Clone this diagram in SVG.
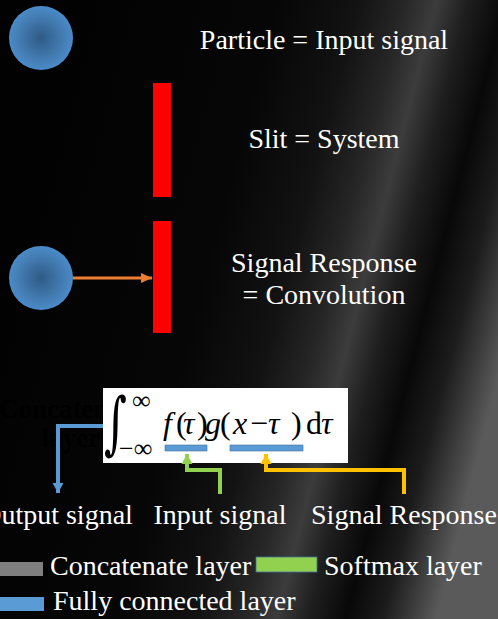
<svg xmlns="http://www.w3.org/2000/svg" width="498" height="619" viewBox="0 0 498 619">
<defs>
<linearGradient id="bg" gradientUnits="userSpaceOnUse" x1="0" y1="250" x2="498" y2="379">
<stop offset="0" stop-color="#020202"/>
<stop offset="0.4" stop-color="#060606"/>
<stop offset="0.55" stop-color="#121212"/>
<stop offset="0.64" stop-color="#262626"/>
<stop offset="0.70" stop-color="#3c3c3c"/>
<stop offset="0.76" stop-color="#1e1e1e"/>
<stop offset="0.83" stop-color="#080808"/>
<stop offset="0.9" stop-color="#1c1c1c"/>
<stop offset="1" stop-color="#5a5a5a"/>
</linearGradient>
<radialGradient id="ball" cx="0.5" cy="0.5" r="0.5">
<stop offset="0" stop-color="#2e5b86"/>
<stop offset="0.6" stop-color="#4178ad"/>
<stop offset="1" stop-color="#4b8bc8"/>
</radialGradient>
<marker id="aOrange" markerUnits="userSpaceOnUse" markerWidth="12" markerHeight="12" refX="11" refY="6" orient="auto"><path d="M0,1 L11,6 L0,11 z" fill="#ed7d31"/></marker>
<marker id="aBlue" markerUnits="userSpaceOnUse" markerWidth="12" markerHeight="12" refX="10" refY="6" orient="auto"><path d="M0,0.5 L10,6 L0,11.5 z" fill="#5b9bd5"/></marker>
<marker id="aGreen" markerUnits="userSpaceOnUse" markerWidth="12" markerHeight="12" refX="10" refY="6" orient="auto"><path d="M0,0.5 L10,6 L0,11.5 z" fill="#92d050"/></marker>
<marker id="aYellow" markerUnits="userSpaceOnUse" markerWidth="12" markerHeight="12" refX="10" refY="6" orient="auto"><path d="M0,0.5 L10,6 L0,11.5 z" fill="#ffc000"/></marker>
</defs>
<style>
.t{font-family:"Liberation Serif","Times New Roman",serif;font-size:28px;fill:#ffffff}
.m{font-family:"Liberation Serif","DejaVu Serif",serif;fill:#000000}
.mi{font-style:italic}
.conn{fill:none;stroke-width:4}
</style>
<rect x="0" y="0" width="498" height="619" fill="url(#bg)"/>

<g id="particle1"><circle cx="41" cy="38" r="32" fill="url(#ball)"/></g>
<g id="label-particle"><text class="t" x="324" y="49" text-anchor="middle">Particle = Input signal</text></g>
<g id="slit1"><rect x="153" y="83" width="18" height="114" fill="#ff0000"/></g>
<g id="label-slit"><text class="t" x="324" y="148" text-anchor="middle">Slit = System</text></g>
<g id="particle2"><circle cx="41" cy="278" r="32" fill="url(#ball)"/></g>
<g id="slit2"><rect x="153" y="221" width="18" height="112" fill="#ff0000"/></g>
<g id="label-response"><text class="t" x="324" y="272" text-anchor="middle">Signal Response</text><text class="t" x="324" y="304" text-anchor="middle">= Convolution</text></g>

<g id="hidden-concat"><text x="71" y="418" text-anchor="middle" font-family="Liberation Serif, serif" font-weight="bold" font-size="27" fill="#000">Concatenate</text><text x="71" y="447" text-anchor="middle" font-family="Liberation Serif, serif" font-weight="bold" font-size="27" fill="#000">layer</text></g>

<g id="formula">
<rect x="103" y="388" width="245" height="75" fill="#ffffff"/>
<text font-family="DejaVu Serif, serif" font-size="44" fill="#000" transform="translate(104,446) scale(1,1.55)">∫</text>
<text class="m" font-size="26" x="132" y="409">∞</text>
<text class="m" font-size="26" x="119" y="457">−∞</text>
<text class="m" font-size="32" y="434"><tspan class="mi" x="163">f</tspan><tspan x="176">(</tspan><tspan class="mi" x="183">τ</tspan><tspan x="197">)</tspan><tspan class="mi" x="205">g</tspan><tspan x="220">(</tspan><tspan class="mi" x="233">x</tspan><tspan x="250">−</tspan><tspan class="mi" x="268">τ</tspan><tspan x="291">)</tspan><tspan x="306">d</tspan><tspan class="mi" x="321">τ</tspan></text>
<rect x="165" y="445" width="42" height="6" fill="#5b9bd5" stroke="#41719c" stroke-width="0.6"/>
<rect x="230" y="445" width="73" height="6" fill="#5b9bd5" stroke="#41719c" stroke-width="0.6"/>
</g>

<g id="connectors">
<path d="M73,278 H152" fill="none" stroke="#ed7d31" stroke-width="3" marker-end="url(#aOrange)"/>
<path class="conn" d="M103,426 H58 V493" stroke="#5b9bd5" marker-end="url(#aBlue)"/>
<path class="conn" d="M220,494 V470 H187 V454" stroke="#92d050" marker-end="url(#aGreen)"/>
<path class="conn" d="M404,494 V470 H266 V454" stroke="#ffc000" marker-end="url(#aYellow)"/>
</g>

<g id="label-output"><text class="t" x="57" y="524" text-anchor="middle">Output signal</text></g>
<g id="label-input"><text class="t" x="220" y="524" text-anchor="middle">Input signal</text></g>
<g id="label-signal-response"><text class="t" x="404" y="524" text-anchor="middle">Signal Response</text></g>

<g id="legend">
<rect x="0" y="562" width="43" height="14" fill="#7f7f7f"/>
<text class="t" x="50" y="575">Concatenate layer</text>
<rect x="256" y="557" width="61" height="15" fill="#92d050" stroke="#41719c" stroke-width="0.8"/>
<text class="t" x="324" y="575">Softmax layer</text>
<rect x="0" y="597" width="44" height="14" fill="#5b9bd5"/>
<text class="t" x="53" y="610">Fully connected layer</text>
</g>
</svg>
